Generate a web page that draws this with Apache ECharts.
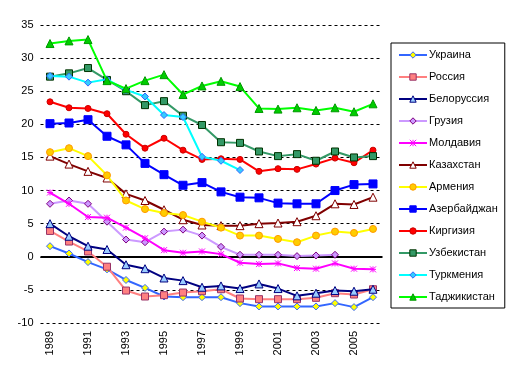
<!DOCTYPE html>
<html>
<head>
<meta charset="utf-8">
<script src="https://cdn.jsdelivr.net/npm/echarts@6/dist/echarts.min.js"></script>
<style>
html,body{margin:0;padding:0;background:#fff;}
#chart{width:512px;height:372px;}
</style>
</head>
<body>
<div id="chart"></div>
<script>
var years = ['1989','1990','1991','1992','1993','1994','1995','1996','1997','1998','1999','2000','2001','2002','2003','2004','2005','2006'];
var yTicks = [-10, 35, 5];

var ukraine     = [1.6, 0.5, -0.8, -1.9, -3.5, -4.7, -6.0, -6.1, -6.1, -6.1, -7.0, -7.5, -7.5, -7.5, -7.5, -7.0, -7.6, -6.1];
var russia      = [3.9, 2.3, 0.8, -1.5, -5.1, -6.0, -5.8, -5.4, -5.2, -4.9, -6.3, -6.4, -6.4, -6.4, -6.2, -5.5, -5.7, -4.9];
var belarus     = [5.0, 3.1, 1.6, 1.1, -1.2, -1.8, -3.2, -3.6, -4.6, -4.4, -4.8, -4.1, -4.8, -5.9, -5.5, -5.1, -5.2, -4.9];
var georgia     = [8.0, 8.5, 8.0, 5.3, 2.6, 2.2, 3.8, 4.1, 3.2, 1.5, 0.3, 0.3, 0.3, 0.1, 0.2, 0.3, null, null];
var moldova     = [9.7, 8.0, 6.0, 5.9, 4.4, 2.8, 1.0, 0.6, 0.8, 0.4, -0.9, -1.1, -1.0, -1.7, -1.8, -1.0, -1.8, -1.9];
var kazakhstan  = [15.2, 14.0, 12.9, 11.9, 9.5, 8.5, 7.1, 5.6, 4.8, 4.7, 4.7, 5.0, 5.1, 5.3, 6.2, 8.0, 7.9, 9.0];
var armenia     = [15.8, 16.4, 15.2, 12.3, 8.5, 7.2, 6.6, 6.3, 5.3, 4.4, 3.2, 3.2, 2.7, 2.2, 3.2, 3.8, 3.6, 4.2];
var azerbaijan  = [20.1, 20.2, 20.7, 18.2, 16.9, 14.1, 12.4, 10.8, 11.2, 9.8, 9.0, 8.9, 8.1, 8.0, 8.0, 10.0, 10.9, 11.0];
var kyrgyzstan  = [23.4, 22.5, 22.4, 21.6, 18.5, 16.4, 17.9, 16.1, 14.7, 14.8, 14.7, 12.9, 13.3, 13.2, 14.0, 14.9, 14.2, 16.1];
var uzbekistan  = [27.2, 27.7, 28.5, 26.7, 25.0, 22.9, 23.5, 21.3, 19.9, 17.3, 17.2, 15.9, 15.2, 15.5, 14.5, 15.9, 15.0, 15.2];
var turkmenia   = [27.3, 27.2, 26.3, 26.8, 25.2, 24.2, 21.4, 21.1, 15.1, 14.5, 13.1, null, null, null, null, null, null, null];
var tajikistan  = [32.2, 32.6, 32.8, 26.6, 25.4, 26.6, 27.5, 24.5, 25.8, 26.5, 25.7, 22.4, 22.3, 22.5, 22.1, 22.5, 21.9, 23.1];

var names = ['Украина','Россия','Белоруссия','Грузия','Молдавия','Казахстан','Армения','Азербайджан','Киргизия','Узбекистан','Туркмения','Таджикистан'];
var values = [ukraine, russia, belarus, georgia, moldova, kazakhstan, armenia, azerbaijan, kyrgyzstan, uzbekistan, turkmenia, tajikistan];

var asterisk = 'path://M0,0L10,10M0,10L10,0M5,0L5,10M0,5L10,5';
var styles = [
  {line:'#3366FF', sym:'diamond',  size:7, fill:'#FFFF00', border:'#3366FF'},
  {line:'#FF8080', sym:'rect',     size:7, fill:'#FF8080', border:'#993366'},
  {line:'#000080', sym:'triangle', size:8, fill:'#99CCFF', border:'#000080'},
  {line:'#CC99FF', sym:'diamond',  size:7, fill:'#CC99FF', border:'#800080'},
  {line:'#FF00FF', sym:asterisk,   size:6, fill:'#FF00FF', border:'#FF00FF'},
  {line:'#800000', sym:'triangle', size:8, fill:'#FFFFFF', border:'#800000'},
  {line:'#FFFF00', sym:'circle',   size:7, fill:'#FFCC00', border:'#FF9900'},
  {line:'#0000FF', sym:'rect',     size:8, fill:'#0000FF', border:'#0000FF'},
  {line:'#FF0000', sym:'circle',   size:6, fill:'#FF0000', border:'#CC0000'},
  {line:'#339966', sym:'rect',     size:7, fill:'#339966', border:'#003300'},
  {line:'#00FFFF', sym:'diamond',  size:7, fill:'#33CCFF', border:'#3366FF'},
  {line:'#00FF00', sym:'triangle', size:8, fill:'#00CC00', border:'#009900'}
];

var series = names.map(function(n, i){
  var s = styles[i];
  var obj = {
    name: n,
    type: 'line',
    data: values[i],
    symbol: s.sym,
    symbolSize: s.size,
    showAllSymbol: true,
    connectNulls: false,
    lineStyle: {color: s.line, width: 2},
    itemStyle: {color: s.fill, borderColor: s.border, borderWidth: 1},
    z: 3 + i
  };
  if (i === 0) {
    obj.markLine = {
      silent: true,
      symbol: 'none',
      label: {show: false},
      lineStyle: {color: '#000', width: 2, type: 'solid'},
      data: [{yAxis: 0}],
      z: 2
    };
  }
  return obj;
});

var legendData = names.map(function(n, i){
  var s = styles[i];
  return {
    name: n,
    itemStyle: {color: s.fill, borderColor: s.border, borderWidth: 1},
    lineStyle: {color: s.line, width: 2}
  };
});

var chart = echarts.init(document.getElementById('chart'), null, {renderer: 'canvas'});
chart.setOption({
  animation: false,
  backgroundColor: '#fff',
  grid: {left: 40.5, top: 25, width: 342, height: 298},
  xAxis: {
    type: 'category',
    data: years,
    boundaryGap: true,
    axisLine: {show: false},
    axisTick: {show: false},
    splitLine: {show: false},
    axisLabel: {
      rotate: 90, interval: 1, margin: 8,
      color: '#000', fontSize: 11, fontFamily: 'Liberation Sans, Arial, sans-serif'
    }
  },
  yAxis: {
    type: 'value',
    min: yTicks[0], max: yTicks[1], interval: yTicks[2],
    axisLine: {show: false},
    axisTick: {show: false},
    axisLabel: {color: '#000', fontSize: 11, margin: 7, fontFamily: 'Liberation Sans, Arial, sans-serif'},
    splitLine: {show: true, lineStyle: {color: '#000', width: 1, type: [3, 3]}}
  },
  legend: {
    orient: 'vertical',
    left: 391, top: 43,
    padding: [6.5, 7, 5.5, 7],
    itemWidth: 28, itemHeight: 8, itemGap: 11,
    borderColor: '#000', borderWidth: 1,
    backgroundColor: '#fff',
    textStyle: {color: '#000', fontSize: 11, fontFamily: 'Liberation Sans, Arial, sans-serif', padding: [0, 0, 0, -3]},
    data: legendData
  },
  series: series
});
</script>
</body>
</html>
